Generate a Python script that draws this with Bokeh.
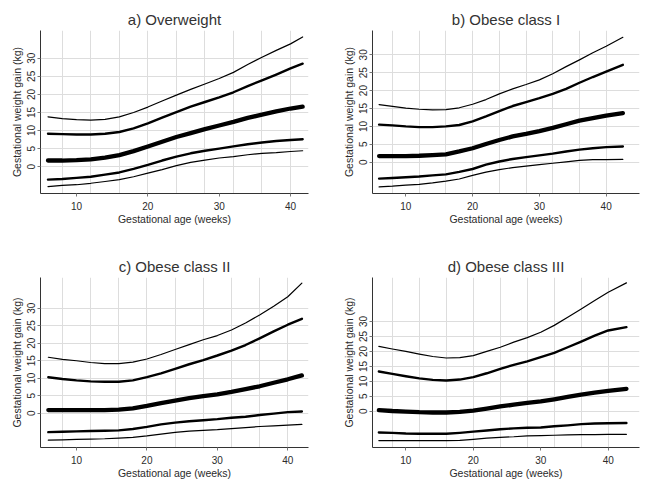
from bokeh.plotting import figure
from bokeh.layouts import gridplot
from bokeh.models import FixedTicker, Range1d
from bokeh.embed import file_html
from bokeh.resources import INLINE

# ---- data ----
age_a = [6, 8, 10, 12, 14, 16, 18, 20, 22, 24, 26, 28, 30, 32, 34, 36, 38, 40, 41.7]
a_p97 = [13.8, 13.3, 13.0, 12.9, 13.1, 13.8, 15.0, 16.5, 18.2, 19.8, 21.4, 22.9, 24.4, 26.1, 28.3, 30.3, 32.2, 34.0, 35.9]
a_p90 = [9.1, 9.0, 8.9, 8.9, 9.1, 9.6, 10.6, 12.0, 13.6, 15.1, 16.6, 17.9, 19.2, 20.6, 22.3, 23.9, 25.5, 27.2, 28.5]
a_p50 = [1.7, 1.7, 1.8, 2.0, 2.5, 3.2, 4.3, 5.6, 6.9, 8.2, 9.3, 10.4, 11.4, 12.4, 13.5, 14.4, 15.3, 16.1, 16.6]
a_p10 = [-3.6, -3.4, -3.1, -2.8, -2.2, -1.6, -0.6, 0.5, 1.7, 2.8, 3.7, 4.4, 5.0, 5.6, 6.2, 6.7, 7.1, 7.4, 7.6]
a_p03 = [-5.5, -5.2, -5.0, -4.6, -4.1, -3.6, -2.8, -1.8, -0.8, 0.3, 1.2, 1.8, 2.4, 2.8, 3.3, 3.7, 3.9, 4.2, 4.4]

age_b = [6, 8, 10, 12, 14, 16, 18, 20, 22, 24, 26, 28, 30, 32, 34, 36, 38, 40, 42.5]
b_p97 = [16.1, 15.6, 15.1, 14.8, 14.6, 14.7, 15.2, 16.2, 17.5, 19.1, 20.5, 21.7, 23.0, 24.7, 26.7, 28.6, 30.6, 32.4, 34.9]
b_p90 = [10.5, 10.3, 10.0, 9.8, 9.8, 10.0, 10.4, 11.4, 12.8, 14.3, 15.7, 16.8, 17.9, 19.1, 20.5, 22.2, 23.8, 25.3, 27.2]
b_p50 = [1.7, 1.7, 1.7, 1.8, 2.0, 2.2, 3.0, 3.9, 5.1, 6.2, 7.2, 7.9, 8.7, 9.6, 10.6, 11.6, 12.3, 13.0, 13.7]
b_p10 = [-4.6, -4.4, -4.2, -4.0, -3.7, -3.4, -2.7, -1.9, -0.7, 0.2, 0.9, 1.4, 1.9, 2.4, 3.0, 3.5, 3.9, 4.2, 4.4]
b_p03 = [-6.9, -6.7, -6.4, -6.2, -5.8, -5.3, -4.7, -3.7, -2.8, -2.1, -1.5, -1.1, -0.7, -0.3, 0.1, 0.5, 0.7, 0.7, 0.8]

age_c = [6, 8, 10, 12, 14, 16, 18, 20, 22, 24, 26, 28, 30, 32, 34, 36, 38, 40, 42]
c_p97 = [16.0, 15.4, 15.0, 14.5, 14.2, 14.2, 14.6, 15.5, 16.8, 18.2, 19.6, 21.0, 22.2, 23.8, 25.8, 28.1, 30.6, 33.3, 37.2]
c_p90 = [10.3, 9.8, 9.4, 9.1, 9.0, 9.0, 9.4, 10.3, 11.4, 12.7, 14.0, 15.2, 16.5, 17.9, 19.5, 21.4, 23.4, 25.3, 27.0]
c_p50 = [0.9, 0.9, 0.9, 0.9, 0.9, 1.0, 1.4, 2.1, 2.9, 3.6, 4.3, 4.9, 5.4, 6.1, 6.9, 7.7, 8.7, 9.7, 10.8]
c_p10 = [-5.4, -5.3, -5.2, -5.1, -5.0, -4.9, -4.5, -3.9, -3.2, -2.7, -2.3, -2.0, -1.7, -1.3, -1.0, -0.5, -0.1, 0.3, 0.5]
c_p03 = [-7.7, -7.6, -7.5, -7.4, -7.3, -7.1, -6.9, -6.5, -6.0, -5.5, -5.1, -4.9, -4.7, -4.4, -4.1, -3.8, -3.6, -3.4, -3.2]

age_d = [6, 8, 10, 12, 14, 16, 18, 20, 22, 24, 26, 28, 30, 32, 34, 36, 38, 40, 42.7]
d_p97 = [21.7, 20.8, 20.0, 19.1, 18.3, 17.8, 17.9, 18.6, 20.0, 21.4, 23.1, 24.6, 26.4, 28.7, 31.4, 34.2, 37.0, 39.8, 42.9]
d_p90 = [13.3, 12.5, 11.7, 11.0, 10.5, 10.3, 10.6, 11.4, 12.7, 14.2, 15.5, 16.7, 18.1, 19.5, 21.4, 23.3, 25.3, 27.0, 28.1]
d_p50 = [0.4, 0.1, -0.1, -0.3, -0.4, -0.4, -0.2, 0.2, 0.9, 1.6, 2.2, 2.8, 3.3, 4.0, 4.8, 5.6, 6.2, 6.8, 7.5]
d_p10 = [-7.1, -7.2, -7.4, -7.5, -7.5, -7.5, -7.2, -6.8, -6.4, -6.0, -5.7, -5.5, -5.4, -5.0, -4.7, -4.3, -4.1, -4.0, -3.9]
d_p03 = [-9.8, -9.8, -9.8, -9.8, -9.8, -9.8, -9.7, -9.4, -9.0, -8.7, -8.5, -8.2, -8.1, -8.0, -7.9, -7.8, -7.8, -7.7, -7.7]

titles = ["a) Overweight", "b) Obese class I", "c) Obese class II", "d) Obese class III"]
x_label = "Gestational age (weeks)"
y_label = "Gestational weight gain (kg)"
x_ticks = [10, 20, 30, 40]
x_grid = [8, 12, 16, 20, 24, 28, 32, 36, 40]
y_ticks = [0, 5, 10, 15, 20, 25, 30]

FONT = "Liberation Sans"
TXT = "#2b2b2b"


def panel(title, age, curves, xr, yr, w, h, bl, br, bt, bb):
    p = figure(width=w, height=h, output_backend="svg", toolbar_location=None,
               x_range=Range1d(*xr), y_range=Range1d(*yr),
               min_border_left=bl, min_border_right=br,
               min_border_top=bt, min_border_bottom=bb)
    p.outline_line_color = None
    p.title.text = title
    p.title.align = "center"
    p.title.text_font = FONT
    p.title.text_font_size = "15px"
    p.title.text_font_style = "normal"
    p.title.text_color = "#333333"
    p.title.standoff = 6

    p.xaxis.ticker = FixedTicker(ticks=x_ticks)
    p.yaxis.ticker = FixedTicker(ticks=y_ticks)
    p.xgrid.ticker = FixedTicker(ticks=x_grid)
    p.ygrid.ticker = FixedTicker(ticks=y_ticks)
    p.grid.grid_line_color = "#dddddd"
    p.grid.grid_line_width = 1

    p.xaxis.axis_label = x_label
    p.yaxis.axis_label = y_label
    p.yaxis.major_label_orientation = "vertical"
    for ax in (p.xaxis, p.yaxis):
        ax.axis_label_text_font = FONT
        ax.axis_label_text_font_size = "10.5px"
        ax.axis_label_text_font_style = "normal"
        ax.axis_label_text_color = TXT
        ax.major_label_text_font = FONT
        ax.major_label_text_font_size = "10px"
        ax.major_label_text_color = TXT
        ax.axis_line_color = "#333333"
        ax.major_tick_line_color = "#777777"
        ax.major_tick_out = 3
        ax.major_tick_in = 0
        ax.minor_tick_line_color = None
    p.xaxis.major_label_standoff = 5
    p.xaxis.axis_label_standoff = 0
    p.yaxis.major_label_standoff = 2
    p.yaxis.axis_label_standoff = 2

    widths = [1.2, 2.4, 4.3, 2.4, 1.2]
    for ys, lw in zip(curves, widths):
        p.line(age, ys, line_color="black", line_width=lw,
               line_cap="round", line_join="round")
    return p


pa = panel(titles[0], age_a, [a_p97, a_p90, a_p50, a_p10, a_p03],
           (4.95, 42.52), (-7.43, 37.7), 323, 245, 40, 15, 29, 52)
pb = panel(titles[1], age_b, [b_p97, b_p90, b_p50, b_p10, b_p03],
           (5.01, 44.99), (-8.75, 36.8), 323, 245, 49, 7, 30, 52)
pc = panel(titles[2], age_c, [c_p97, c_p90, c_p50, c_p10, c_p03],
           (4.89, 42.94), (-9.8, 38.8), 323, 245, 40, 15, 32, 43)
pd = panel(titles[3], age_d, [d_p97, d_p90, d_p50, d_p10, d_p03],
           (5.06, 44.64), (-12.1, 44.7), 323, 245, 49, 7, 32, 43)

grid = gridplot([[pa, pb], [pc, pd]], toolbar_location=None)

open("out.html", "w").write(file_html(grid, INLINE))
